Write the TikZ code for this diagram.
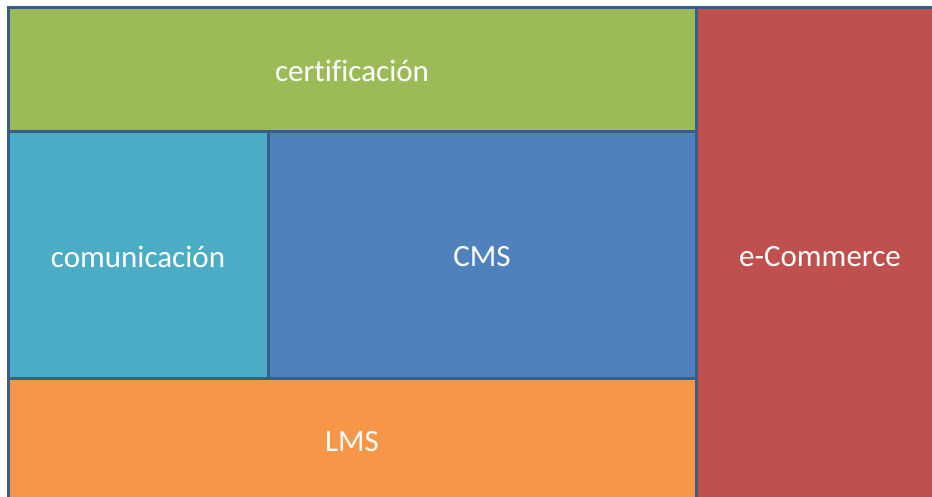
\documentclass[tikz,border=0pt]{standalone}
\usepackage{fontspec}
\setmainfont[Ligatures=NoCommon]{Carlito}
\definecolor{bord}{HTML}{385D8A}
\definecolor{cgreen}{HTML}{9BBB59}
\definecolor{cteal}{HTML}{4BACC6}
\definecolor{cblue}{HTML}{4F81BD}
\definecolor{corange}{HTML}{F79646}
\definecolor{cred}{HTML}{C0504D}
\begin{document}
\begin{tikzpicture}[x=1pt,y=-1pt,
  tile/.style={draw=bord,line width=3pt},
  lbl/.style={text=white,font=\fontsize{31}{36}\selectfont,inner sep=0pt}]
\useasboundingbox (0,0) rectangle (932,497);
\begin{scope}
\clip (0,0) rectangle (932,497);
\fill[white] (0,0) rectangle (932,497);
\draw[tile,fill=cgreen] (8.5,7.5) rectangle (696.5,131.5);
\draw[tile,fill=cteal] (8.5,131.5) rectangle (268.5,378);
\draw[tile,fill=cblue] (268.5,131.5) rectangle (696.5,378);
\draw[tile,fill=corange] (8.5,378) rectangle (696.5,510);
\draw[tile,fill=cred] (696.5,7.5) rectangle (945,510);
\end{scope}
\node[lbl] (cert) at (352,71) {certificación};
\node[lbl] (com) at (138,257) {comunicación};
\node[lbl] (cms) at (482,257) {CMS};
\node[lbl] (lms) at (352,442) {LMS};
\node[lbl] (ecom) at (820,257) {e-Commerce};
\end{tikzpicture}
\end{document}
